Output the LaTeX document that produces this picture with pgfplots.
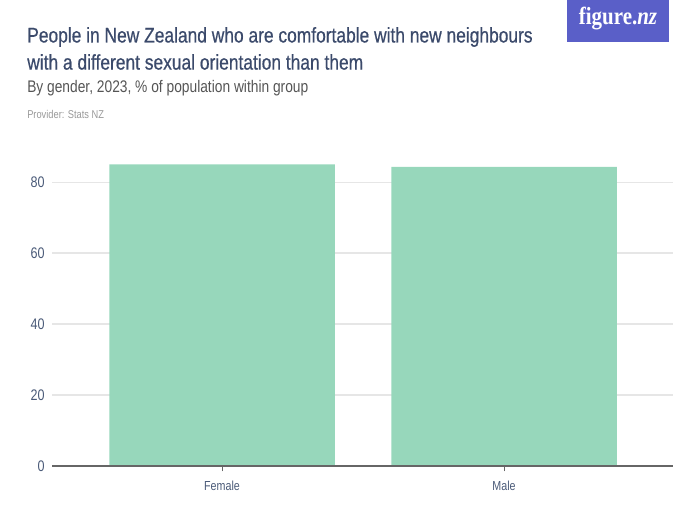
\documentclass[border=0pt]{standalone}
\usepackage{fontspec}
\setmainfont{Liberation Sans}[FakeStretch=0.82]
\newfontfamily\titlefont{Liberation Sans}[FakeStretch=0.82,FakeBold=0.6]
\newfontfamily\logofont{Liberation Serif}[FakeStretch=0.85]
\usepackage{pgfplots}
\pgfplotsset{compat=1.18}
\definecolor{titlec}{HTML}{3B4A6B}
\definecolor{subc}{HTML}{555555}
\definecolor{provc}{HTML}{999999}
\definecolor{barc}{HTML}{97D7BB}
\definecolor{gridc}{HTML}{E6E6E6}
\definecolor{axisc}{HTML}{666666}
\definecolor{tickc}{HTML}{4A5A78}
\definecolor{logoc}{HTML}{5A5FC8}
\begin{document}
\begin{tikzpicture}
\begin{scope}[x=0.75pt,y=-0.75pt]
\path[use as bounding box] (0,0) rectangle (700,525);
\fill[logoc] (567,0) rectangle (669,42);
\node[text=white,font=\logofont\fontsize{18.5}{20}\selectfont\bfseries] at (618,19) {figure.\textit{nz}};
\node[anchor=west,inner sep=0,text=titlec,font=\titlefont\fontsize{15.9}{18}\selectfont] at (27,37) {People in New Zealand who are comfortable with new neighbours};
\node[anchor=west,inner sep=0,text=titlec,font=\titlefont\fontsize{15.9}{18}\selectfont] at (27,62) {with a different sexual orientation than them};
\node[anchor=west,inner sep=0,text=subc,font=\fontsize{12.6}{14}\selectfont] at (27,88) {By gender, 2023, \% of population within group};
\node[anchor=west,inner sep=0,text=provc,font=\fontsize{8.5}{10}\selectfont] at (27,114) {Provider: Stats NZ};
\coordinate (A) at (52,466);
\end{scope}
\begin{axis}[
  at={(A)}, anchor=south west,
  scale only axis, width=465.75pt, height=239.6pt,
  xmin=-0.603, xmax=1.599, ymin=0, ymax=90,
  xtick={0,1}, xticklabels={Female,Male},
  ytick={0,20,40,60,80},
  axis line style={draw=none},
  axis x line*=bottom, axis y line*=left,
  ymajorgrids, grid style={gridc, line width=0.8pt},
  major y tick style={draw=none},
  major x tick style={axisc, line width=0.6pt},
  xtick align=outside, major tick length=4pt,
  tick label style={text=tickc},
  yticklabel style={font=\fontsize{11.5}{13}\selectfont, xshift=-2pt},
  xticklabel style={font=\fontsize{9.8}{11}\selectfont, yshift=-4pt},
  /pgf/number format/assume math mode=true,
  ybar, bar width=0.8, bar shift=0pt,
  clip=false,
]
\addplot[fill=barc, draw=none] coordinates {(0,85.0) (1,84.3)};
\draw[axisc, line width=0.9pt] (axis cs:-0.603,0) -- (axis cs:1.599,0);
\end{axis}
\end{tikzpicture}
\end{document}
